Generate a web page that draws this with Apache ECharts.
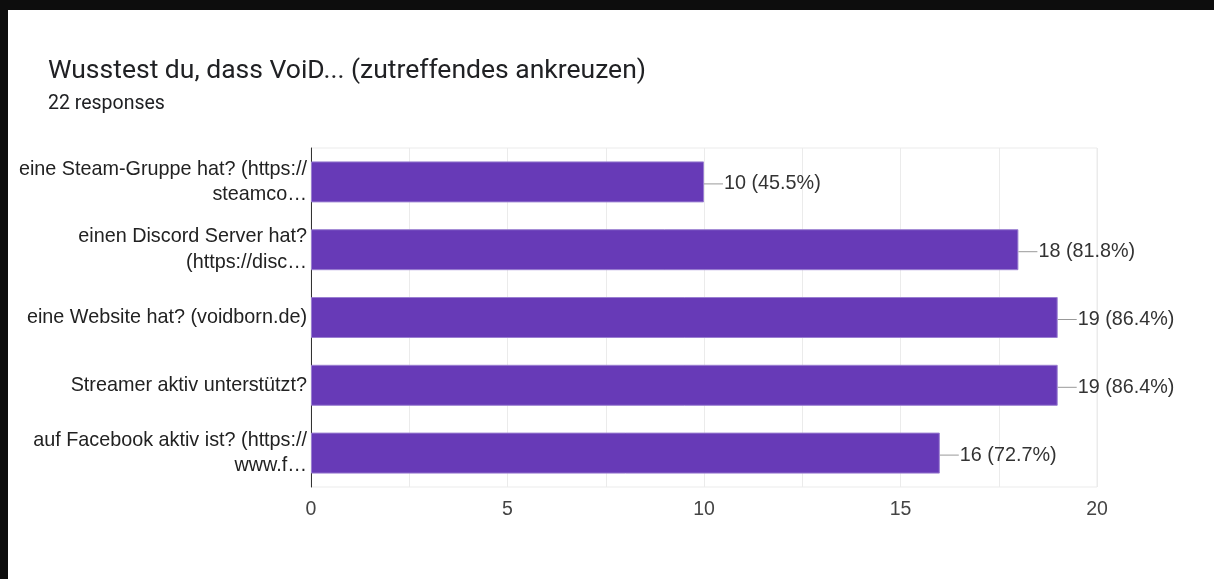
<!DOCTYPE html>
<html>
<head>
<meta charset="utf-8">
<script src="https://cdn.jsdelivr.net/npm/echarts@6/dist/echarts.min.js"></script>
<style>
  html, body { margin: 0; padding: 0; background: #fff; }
  #chart { width: 1214px; height: 579px; }
</style>
</head>
<body>
<div id="chart"></div>
<script>
  let categories = [
    'eine Steam-Gruppe hat? (https://\nsteamco\u2026',
    'einen Discord Server hat?\n(https://disc\u2026',
    'eine Website hat? (voidborn.de)',
    'Streamer aktiv unterst\u00fctzt?',
    'auf Facebook aktiv ist? (https://\nwww.f\u2026'
  ];
  let counts = [10, 18, 19, 19, 16];
  let percents = ['45.5%', '81.8%', '86.4%', '86.4%', '72.7%'];
  let xTicks = [0, 5, 10, 15, 20];

  let chart = echarts.init(document.getElementById('chart'));

  chart.setOption({
    backgroundColor: '#fff',
    animation: false,
    graphic: [
      {type: 'rect', shape: {x: 0, y: 0, width: 1214, height: 10}, style: {fill: '#0d0d0d'}},
      {type: 'rect', shape: {x: 0, y: 0, width: 8, height: 579}, style: {fill: '#0d0d0d'}},
      {
        type: 'text', left: 48, top: 58,
        style: {text: 'Wusstest du, dass VoiD... (zutreffendes ankreuzen)', font: '26.5px Roboto', fill: '#202124'}
      },
      {
        type: 'text', left: 48, top: 94,
        style: {text: '22 responses', font: '19.5px Roboto', fill: '#202124'}
      }
    ],
    grid: {
      left: 311,
      right: 117,
      top: 148,
      bottom: 92,
      show: true,
      borderColor: '#ebebeb',
      borderWidth: 1
    },
    xAxis: {
      type: 'value',
      min: 0,
      max: 20,
      interval: 2.5,
      axisLine: {show: false},
      axisTick: {show: false},
      splitLine: {lineStyle: {color: '#ebebeb', width: 1}},
      axisLabel: {
        margin: 13,
        color: '#444',
        fontFamily: 'Arial, "Liberation Sans"',
        fontSize: 19.5,
        formatter: function(v) {
          return xTicks.indexOf(v) >= 0 ? String(v) : '';
        }
      }
    },
    yAxis: {
      type: 'category',
      inverse: true,
      data: categories,
      axisLine: {show: true, lineStyle: {color: '#333', width: 1}},
      axisTick: {show: false},
      axisLabel: {
        margin: 4,
        color: '#222',
        fontFamily: 'Arial, "Liberation Sans"',
        fontSize: 19.8,
        lineHeight: 25.5,
        align: 'right',
        padding: [13, 0, 0, 0]
      }
    },
    series: [{
      type: 'bar',
      data: counts,
      barWidth: 41,
      itemStyle: {color: '#673ab7', borderColor: '#9a7fd1', borderWidth: 1},
      label: {
        show: true,
        position: 'right',
        distance: 0,
        offset: [0, 2],
        formatter: function(p) {
          return '{line|}{txt|' + counts[p.dataIndex] + ' (' + percents[p.dataIndex] + ')}';
        },
        rich: {
          line: {width: 19, height: 1, backgroundColor: '#999'},
          txt: {color: '#333', fontFamily: 'Arial, "Liberation Sans"', fontSize: 19.8, padding: [0, 0, 0, 1]}
        }
      }
    }]
  });
</script>
</body>
</html>
